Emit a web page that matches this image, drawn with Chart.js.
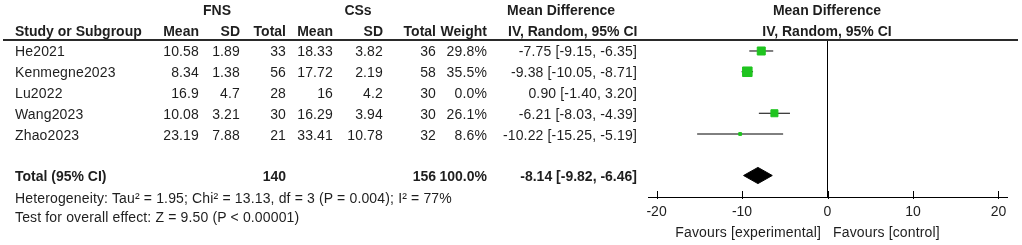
<!DOCTYPE html>
<html>
<head>
<meta charset="utf-8">
<script src="https://cdn.jsdelivr.net/npm/chart.js@4.4.1/dist/chart.umd.min.js"></script>
<style>
  html, body { margin: 0; padding: 0; background: #fff; }
  #wrap { position: relative; width: 1022px; height: 245px; overflow: hidden; }
  #c { position: absolute; left: 0; top: 0; }
  .t { position: absolute; font-family: "Liberation Sans", Arial, sans-serif; font-size: 14px;
       line-height: 16px; color: #1e1e1e; white-space: nowrap; letter-spacing: 0.15px; }
  .b { font-weight: bold; letter-spacing: 0px; }
  .hl { position: absolute; left: 3px; width: 1015px; top: 39px; height: 2px; background: #2a2a2a; }
</style>
</head>
<body>
<div id="wrap">
  <canvas id="c" width="1022" height="245"></canvas>
  <div class="hl"></div>
</div>
<script>
// ---- data ----
const studies   = ['He2021', 'Kenmegne2023', 'Lu2022', 'Wang2023', 'Zhao2023'];
const fnsMean   = [10.58, 8.34, 16.9, 10.08, 23.19];
const fnsSD     = [1.89, 1.38, 4.7, 3.21, 7.88];
const fnsTotal  = [33, 56, 28, 30, 21];
const cssMean   = [18.33, 17.72, 16, 16.29, 33.41];
const cssSD     = [3.82, 2.19, 4.2, 3.94, 10.78];
const cssTotal  = [36, 58, 30, 30, 32];
const weights   = [29.8, 35.5, 0.0, 26.1, 8.6];
const meanDiff  = [-7.75, -9.38, 0.90, -6.21, -10.22];
const ciLow     = [-9.15, -10.05, -1.40, -8.03, -15.25];
const ciHigh    = [-6.35, -8.71, 3.20, -4.39, -5.19];
const totalFns  = 140;
const totalCss  = 156;
const totalWeight = 100.0;
const totalMD   = -8.14;
const totalLow  = -9.82;
const totalHigh = -6.46;
const xTicks    = [-20, -10, 0, 10, 20];
const heterogeneityText = 'Heterogeneity: Tau\u00B2 = 1.95; Chi\u00B2 = 13.13, df = 3 (P = 0.004); I\u00B2 = 77%';
const overallText = 'Test for overall effect: Z = 9.50 (P < 0.00001)';
const favoursLeft = 'Favours [experimental]';
const favoursRight = 'Favours [control]';

// ---- layout helpers (text table) ----
const wrap = document.getElementById('wrap');
function txt(s, x, cy, opts) {
  opts = opts || {};
  const d = document.createElement('div');
  d.className = 't' + (opts.bold ? ' b' : '');
  d.textContent = s;
  d.style.top = (cy - 8) + 'px';
  wrap.appendChild(d);
  const w = d.getBoundingClientRect().width;
  if (opts.align === 'right') d.style.left = (x - w) + 'px';
  else if (opts.align === 'center') d.style.left = (x - w / 2) + 'px';
  else d.style.left = x + 'px';
  return d;
}
const rowY = [51, 72, 93, 114, 134.5];
const totalY = 176;
const cols = { m1: 199, s1: 240, n1: 286, m2: 333, s2: 383, n2: 436, w: 487, ci: 637 };

// headers
txt('FNS', 217, 10, { bold: true, align: 'center' });
txt('CSs', 358, 10, { bold: true, align: 'center' });
txt('Mean Difference', 507, 10, { bold: true });
txt('Mean Difference', 827, 10, { bold: true, align: 'center' });
txt('Study or Subgroup', 15, 31, { bold: true });
txt('Mean', cols.m1, 31, { bold: true, align: 'right' });
txt('SD', cols.s1, 31, { bold: true, align: 'right' });
txt('Total', cols.n1, 31, { bold: true, align: 'right' });
txt('Mean', cols.m2, 31, { bold: true, align: 'right' });
txt('SD', cols.s2, 31, { bold: true, align: 'right' });
txt('Total', cols.n2, 31, { bold: true, align: 'right' });
txt('Weight', cols.w, 31, { bold: true, align: 'right' });
txt('IV, Random, 95% CI', 508, 31, { bold: true });
txt('IV, Random, 95% CI', 827, 31, { bold: true, align: 'center' });

const f2 = v => v.toFixed(2);
studies.forEach((s, i) => {
  const y = rowY[i];
  txt(s, 15, y);
  txt(String(fnsMean[i]), cols.m1, y, { align: 'right' });
  txt(String(fnsSD[i]), cols.s1, y, { align: 'right' });
  txt(String(fnsTotal[i]), cols.n1, y, { align: 'right' });
  txt(String(cssMean[i]), cols.m2, y, { align: 'right' });
  txt(String(cssSD[i]), cols.s2, y, { align: 'right' });
  txt(String(cssTotal[i]), cols.n2, y, { align: 'right' });
  txt(weights[i].toFixed(1) + '%', cols.w, y, { align: 'right' });
  txt(f2(meanDiff[i]) + ' [' + f2(ciLow[i]) + ', ' + f2(ciHigh[i]) + ']', cols.ci, y, { align: 'right' });
});
txt('Total (95% CI)', 15, totalY, { bold: true });
txt(String(totalFns), cols.n1, totalY, { bold: true, align: 'right' });
txt(String(totalCss), cols.n2, totalY, { bold: true, align: 'right' });
txt(totalWeight.toFixed(1) + '%', cols.w, totalY, { bold: true, align: 'right' });
txt(f2(totalMD) + ' [' + f2(totalLow) + ', ' + f2(totalHigh) + ']', cols.ci, totalY, { bold: true, align: 'right' });
txt(heterogeneityText, 15, 198);
txt(overallText, 15, 217);
txt(favoursLeft, 821, 232, { align: 'right' });
txt(favoursRight, 833, 232);

// ---- chart ----
Chart.defaults.font.family = '"Liberation Sans", Arial, sans-serif';
Chart.defaults.font.size = 14;
Chart.defaults.color = '#1e1e1e';

const totalRow = 6;
const dHalf = 0.39;
const green = '#1fc41f';
const datasets = [];

// study squares (size proportional to weight) - first so they are drawn on top
const sq = [];
studies.forEach((s, i) => { if (weights[i] > 0) sq.push({ x: meanDiff[i], y: i, w: weights[i] }); });
datasets.push({
  type: 'scatter', label: 'Estimates', data: sq,
  pointStyle: 'rect',
  pointRadius: ctx => ctx.raw ? Math.max(ctx.raw.w * 0.19, 2) : 0,
  backgroundColor: green, borderColor: green, borderWidth: 1
});
// confidence interval lines (studies with weight > 0)
studies.forEach((s, i) => {
  if (weights[i] <= 0) return;
  datasets.push({
    type: 'scatter', label: s + ' CI', showLine: true,
    data: [{ x: ciLow[i], y: i }, { x: ciHigh[i], y: i }],
    borderColor: '#000', borderWidth: 1, pointRadius: 0, fill: false
  });
});
// pooled diamond (upper half filled to lower half)
datasets.push({
  type: 'scatter', label: 'Total upper', showLine: true,
  data: [{ x: totalLow, y: totalRow }, { x: totalMD, y: totalRow - dHalf }, { x: totalHigh, y: totalRow }],
  borderColor: '#000', borderWidth: 1, pointRadius: 0, tension: 0,
  backgroundColor: '#000', fill: '+1'
});
datasets.push({
  type: 'scatter', label: 'Total lower', showLine: true,
  data: [{ x: totalLow, y: totalRow }, { x: totalMD, y: totalRow + dHalf }, { x: totalHigh, y: totalRow }],
  borderColor: '#000', borderWidth: 1, pointRadius: 0, tension: 0, fill: false
});

const upTicks = {
  id: 'upTicks',
  afterDraw(chart) {
    const xs = chart.scales.x, ca = chart.chartArea, ctx = chart.ctx;
    ctx.save();
    ctx.strokeStyle = '#000';
    ctx.lineWidth = 1;
    xTicks.forEach(v => {
      const px = Math.round(xs.getPixelForValue(v)) + 0.5;
      ctx.beginPath();
      ctx.moveTo(px, ca.bottom - 6);
      ctx.lineTo(px, ca.bottom + 2);
      ctx.stroke();
    });
    ctx.restore();
  }
};

new Chart(document.getElementById('c'), {
  type: 'scatter',
  data: { datasets },
  options: {
    responsive: false,
    animation: false,
    layout: { padding: { left: 648, right: 15, top: 40, bottom: 0 } },
    plugins: { legend: { display: false }, tooltip: { enabled: false } },
    scales: {
      x: {
        type: 'linear', min: -21, max: 21,
        afterBuildTicks: sc => { sc.ticks = xTicks.map(v => ({ value: v })); },
        afterFit: sc => { sc.height = 48; },
        grid: {
          display: true, drawTicks: false, lineWidth: 1,
          color: c => (c.tick && c.tick.value === 0) ? '#000' : 'rgba(0,0,0,0)'
        },
        border: { display: true, color: '#000', width: 1 },
        ticks: { padding: 7, color: '#1e1e1e', font: { size: 14 } }
      },
      y: {
        type: 'linear', reverse: true, min: -0.53, max: 7.036, display: false
      }
    }
  },
  plugins: [upTicks]
});
</script>
</body>
</html>
